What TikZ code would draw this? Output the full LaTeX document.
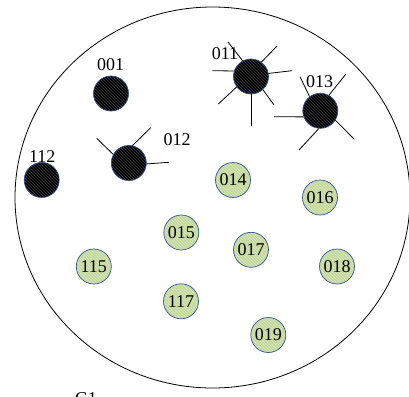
\documentclass[tikz,border=0pt]{standalone}
\usepackage{fontspec}
\setmainfont{Liberation Serif}
\usetikzlibrary{patterns,shapes.geometric}
\definecolor{outl}{HTML}{2F5597}
\definecolor{grnfill}{HTML}{C4D79B}
\definecolor{grnstripe}{HTML}{D9E6C2}
\definecolor{blkstripe}{HTML}{3C3C3C}
\tikzset{
  lblfont/.style={font=\fontsize{18}{18}\selectfont},
  blk/.style={circle, minimum size=35pt, inner sep=0pt, draw=outl, line width=0.7pt,
    preaction={fill=black}, pattern=north west lines, pattern color=blkstripe},
  grn/.style={circle, minimum size=35pt, inner sep=0pt, draw=outl, line width=0.7pt,
    preaction={fill=grnfill}, pattern=north west lines, pattern color=grnstripe, lblfont},
  lbl/.style={inner sep=0pt, lblfont},
  spoke/.style={line width=0.8pt, black},
  boundary/.style={line width=0.8pt, black}
}
\begin{document}
\begin{tikzpicture}[x=1pt,y=-1pt]
\useasboundingbox (0,0) rectangle (409,396);
% boundary
\node[boundary, draw, ellipse, minimum width=395pt, minimum height=381pt, inner sep=0pt] (G) at (212.5,197.5) {};
\node[lbl, anchor=north] (g1) at (86,392.5) {G1};
% black nodes
\node[blk] (n001) at (111,93.5) {};
\node[blk] (n011) at (251,76.5) {};
\node[blk] (n013) at (320.3,110.8) {};
\node[blk] (n012) at (128.8,163) {};
\node[blk] (n112) at (41.7,180) {};
% labels
\node[lbl] (l001) at (110.7,64.5) {001};
\node[lbl] (l011) at (225,53.3) {011};
\node[lbl] (l013) at (319.7,82) {013};
\node[lbl] (l012) at (177.2,140) {012};
\node[lbl] (l112) at (42.2,156.7) {112};
% green nodes
\node[grn] (n014) at (233,180) {014};
\node[grn] (n016) at (320,197.5) {016};
\node[grn] (n015) at (181.3,232.5) {015};
\node[grn] (n017) at (251,249.8) {017};
\node[grn] (n018) at (337,266.5) {018};
\node[grn] (n115) at (93.8,266.5) {115};
\node[grn] (n117) at (181,301.3) {117};
\node[grn] (n019) at (268.3,335) {019};
% spoke free ends
\coordinate (s011a) at (228,42);
\coordinate (s011b) at (277,46);
\coordinate (s011c) at (292,70.7);
\coordinate (s011d) at (212.3,70.7);
\coordinate (s011e) at (218.3,104);
\coordinate (s011f) at (251,125.7);
\coordinate (s011g) at (274,105);
\coordinate (s013a) at (300,76.7);
\coordinate (s013b) at (345.7,74.3);
\coordinate (s013c) at (274,116.7);
\coordinate (s013d) at (299,150);
\coordinate (s013e) at (354.3,139.3);
\coordinate (s012a) at (96.7,138.3);
\coordinate (s012b) at (150.7,127.7);
\coordinate (s012c) at (169,162.3);
% spokes
\draw[spoke] (n011.118) -- (s011a);
\draw[spoke] (n011.54) -- (s011b);
\draw[spoke] (n011.10) -- (s011c);
\draw[spoke] (n011.162) -- (s011d);
\draw[spoke] (n011.216) -- (s011e);
\draw[spoke] (n011.270) -- (s011f);
\draw[spoke] (n011.312) -- (s011g);
\draw[spoke] (n013.127) -- (s013a);
\draw[spoke] (n013.61) -- (s013b);
\draw[spoke] (n013.200) -- (s013c);
\draw[spoke] (n013.265) -- (s013d);
\draw[spoke] (n013.328) -- (s013e);
\draw[spoke] (n012.151) -- (s012a);
\draw[spoke] (n012.78) -- (s012b);
\draw[spoke] (n012.357) -- (s012c);
\end{tikzpicture}
\end{document}
